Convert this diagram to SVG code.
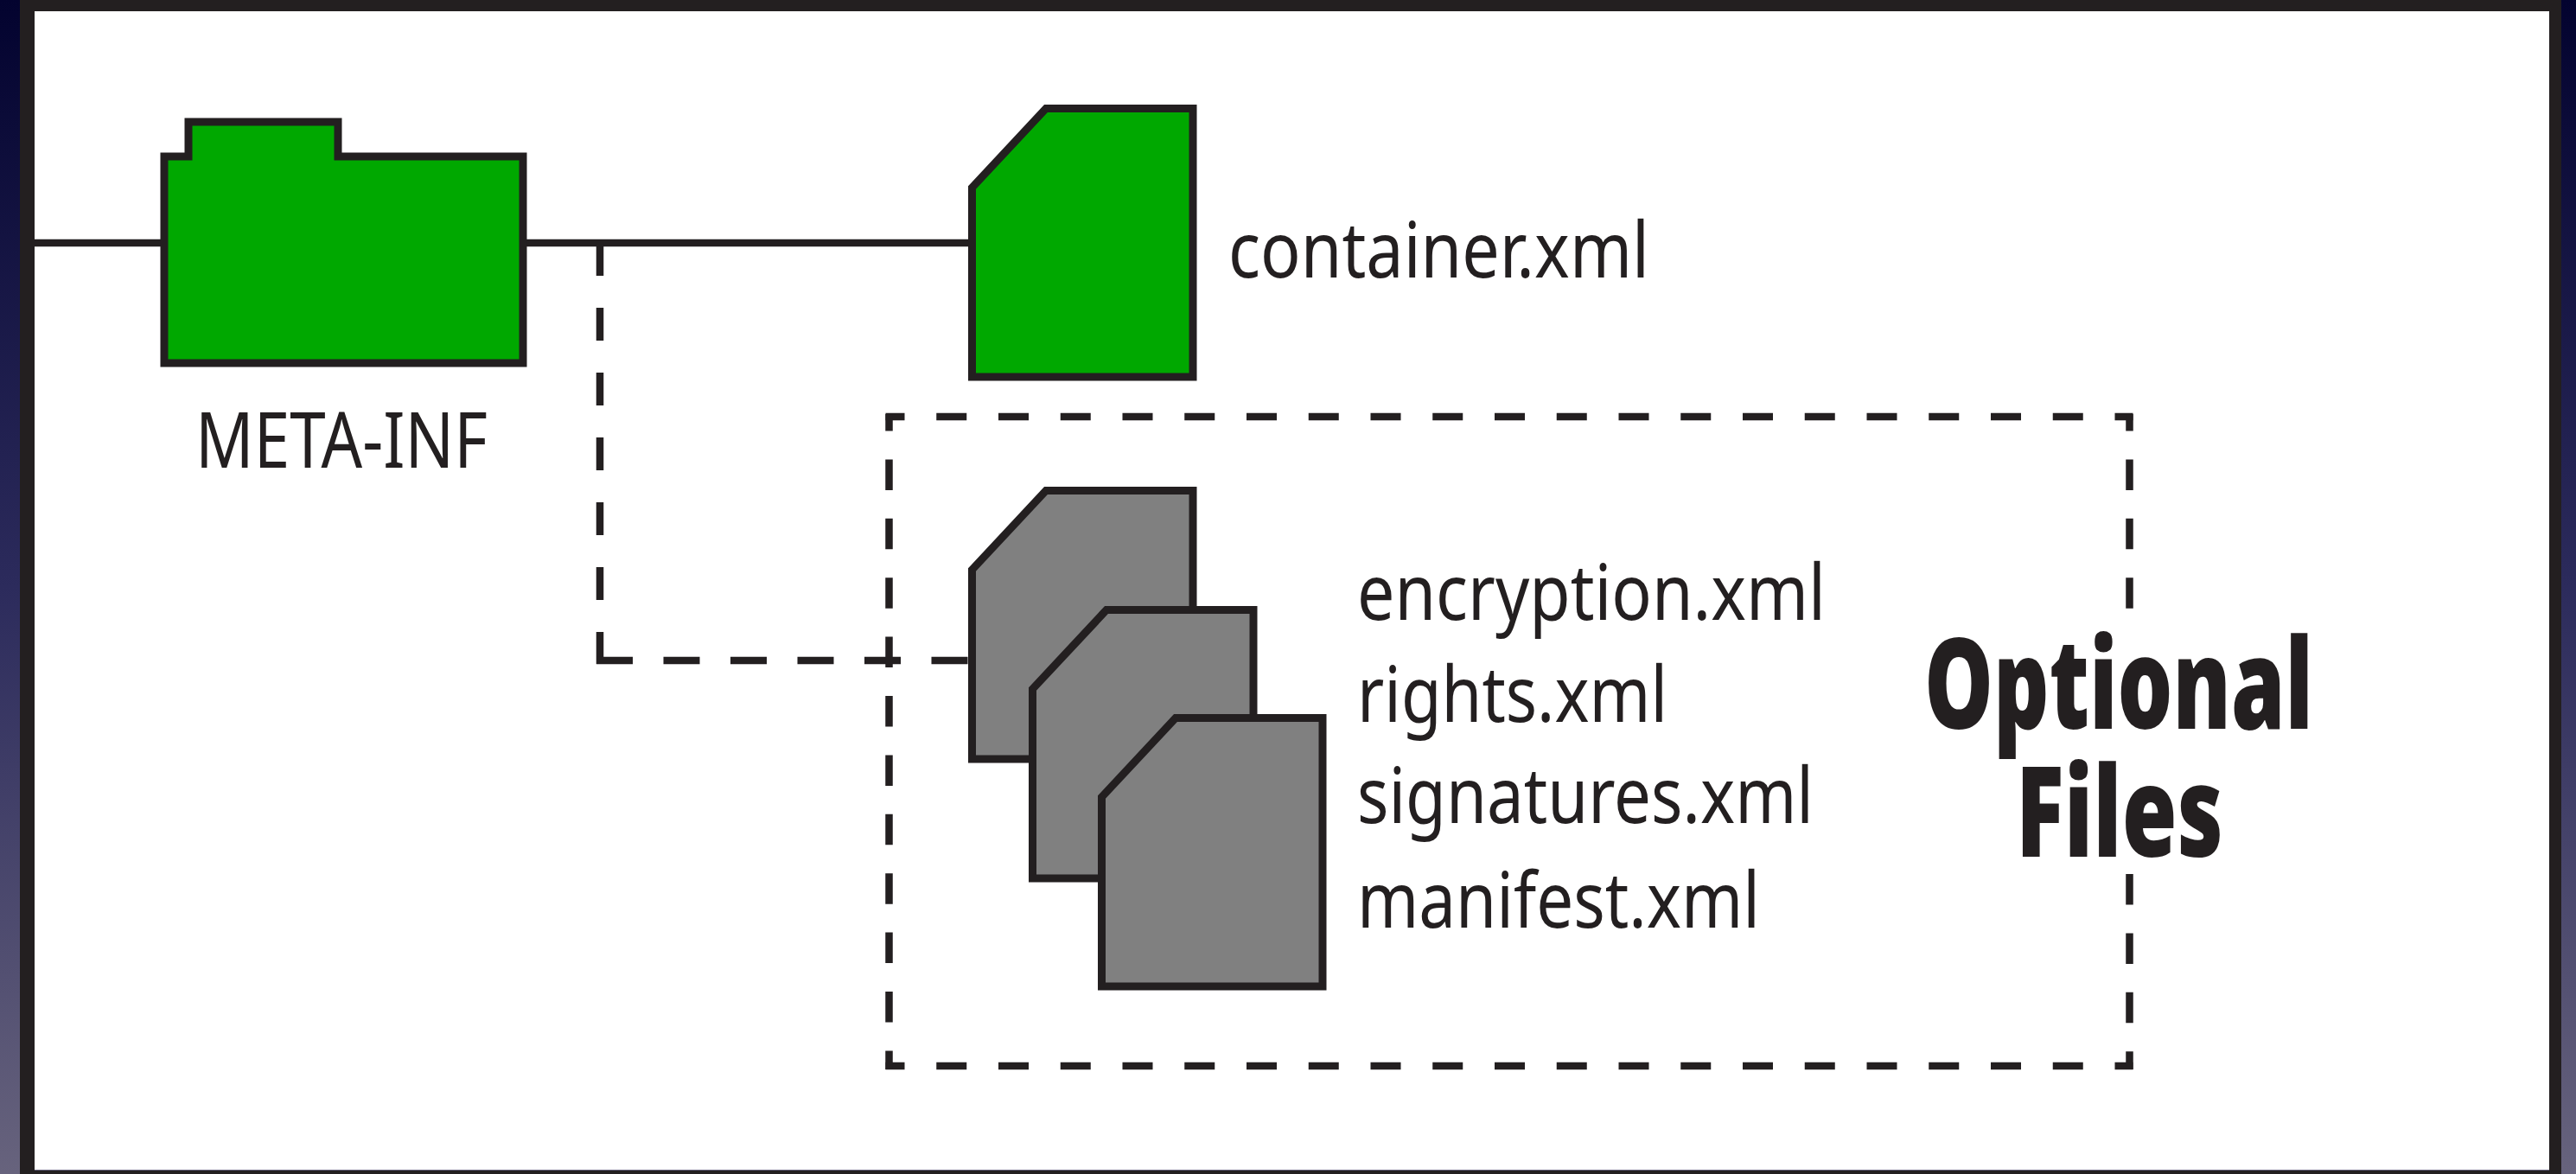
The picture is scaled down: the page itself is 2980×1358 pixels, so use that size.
<svg xmlns="http://www.w3.org/2000/svg" width="2980" height="1358" viewBox="0 0 2980 1358">
<style>
.ln{fill:none;stroke:#231f20;stroke-width:8.5}
.node{stroke:#231f20;stroke-width:9;stroke-linejoin:miter}
.green{fill:#00a800}
.grey{fill:#808080}
.t{font-family:"Noto Sans","Open Sans","Liberation Sans",sans-serif;font-size:90px;fill:#231f20}
.b{font-family:"Noto Sans","Open Sans","Liberation Sans",sans-serif;font-size:146px;font-weight:900;fill:#231f20}
.dv{stroke-dasharray:35.5 32.9}
.dh{stroke-dasharray:35 36.75}
.frame{fill:#231f20}
</style>
<defs>
<linearGradient id="bg" x1="0" y1="0" x2="0" y2="1">
<stop offset="0" stop-color="#03032f"/>
<stop offset="0.5" stop-color="#2c2b5c"/>
<stop offset="1" stop-color="#67637d"/>
</linearGradient>
<path id="file" d="M0.5 92 L86 0.5 H256 V311 H0.5 Z"/>
</defs>
<rect id="backdrop" width="2980" height="1358" fill="url(#bg)"/>
<rect id="panel" x="40" y="13" width="2909" height="1340" fill="#fff"/>
<rect class="frame" x="23" y="0" width="17" height="1358"/>
<rect class="frame" x="2949" y="0" width="14" height="1358"/>
<rect class="frame" x="23" y="0" width="2940" height="13"/>
<rect class="frame" x="23" y="1354" width="2940" height="4"/>
<g id="connectors">
<line class="ln" x1="40" y1="281" x2="1124" y2="281"/>
<line class="ln" x1="694" y1="281" x2="694" y2="768" stroke-dasharray="38 37"/>
<line class="ln" x1="690" y1="764" x2="1124" y2="764" stroke-dasharray="42 35.5"/>
</g>
<g id="optional-box">
<line class="ln dh" x1="1024.5" y1="482" x2="2467.5" y2="482" stroke-dashoffset="13"/>
<line class="ln dh" x1="1024.5" y1="1233" x2="2467.5" y2="1233" stroke-dashoffset="13"/>
<line class="ln dv" x1="1028.5" y1="479" x2="1028.5" y2="1237" stroke-dashoffset="16"/>
<line class="ln dv" x1="2463.5" y1="479" x2="2463.5" y2="706" stroke-dashoffset="16"/>
<line class="ln dv" x1="2463.5" y1="1011" x2="2463.5" y2="1237"/>
</g>
<g id="meta-inf">
<path class="node green" d="M190 181 H218 V141 H391 V181 H605 V420 H190 Z"/>
<text class="t" x="226" y="541" textLength="338" lengthAdjust="spacingAndGlyphs">META-INF</text>
</g>
<g id="container">
<use href="#file" class="node green" x="1124" y="125"/>
<text class="t" x="1421" y="321" textLength="487" lengthAdjust="spacingAndGlyphs">container.xml</text>
</g>
<g id="optional-files">
<use href="#file" class="node grey" x="1124" y="567"/>
<use href="#file" class="node grey" x="1194" y="705"/>
<use href="#file" class="node grey" x="1274" y="830"/>
</g>
<g id="optional-labels">
<text class="t" x="1570" y="717" textLength="542" lengthAdjust="spacingAndGlyphs">encryption.xml</text>
<text class="t" x="1570" y="835" textLength="359" lengthAdjust="spacingAndGlyphs">rights.xml</text>
<text class="t" x="1570" y="952" textLength="528" lengthAdjust="spacingAndGlyphs">signatures.xml</text>
<text class="t" x="1570" y="1073" textLength="466" lengthAdjust="spacingAndGlyphs">manifest.xml</text>
<text class="b" x="2226" y="843" textLength="450" lengthAdjust="spacingAndGlyphs">Optional</text>
<text class="b" x="2332" y="991" textLength="240" lengthAdjust="spacingAndGlyphs">Files</text>
</g>
</svg>
